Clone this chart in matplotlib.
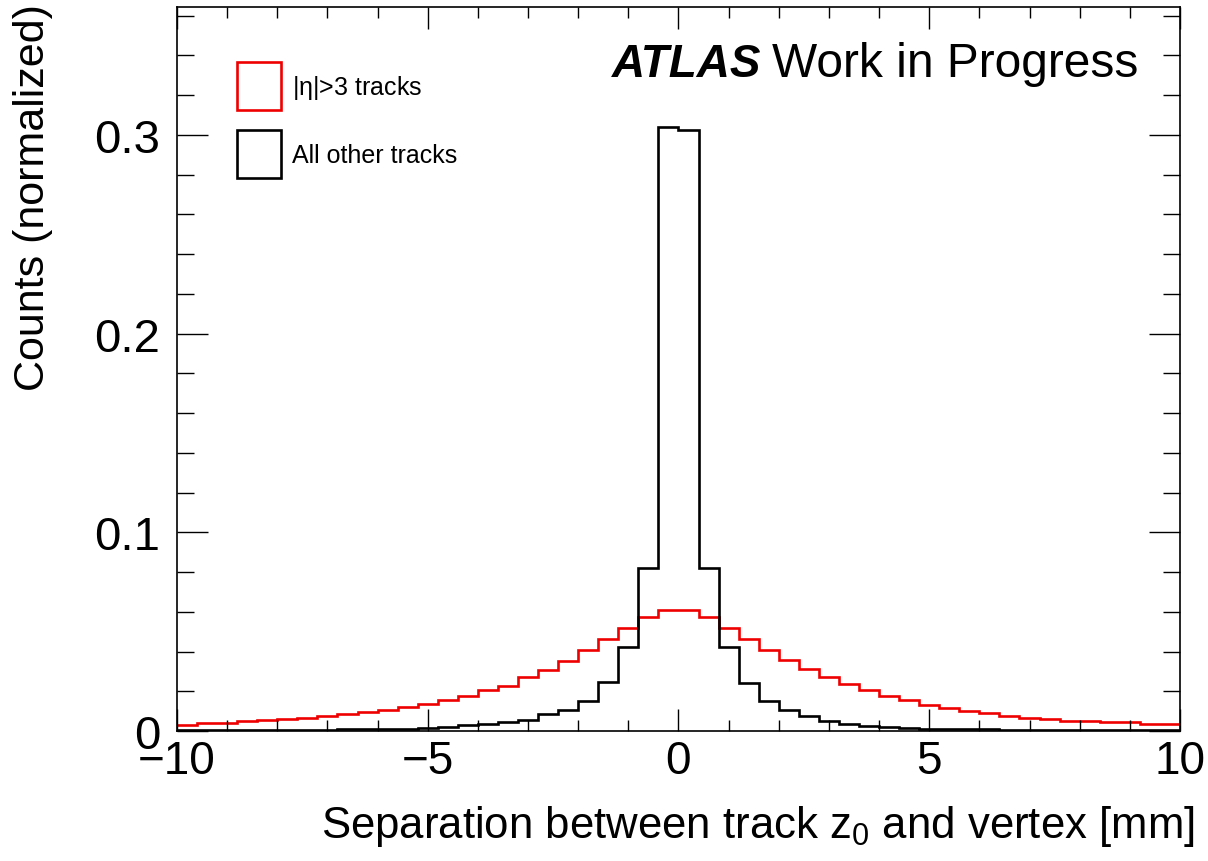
import numpy as np
import matplotlib
matplotlib.use('Agg')
import matplotlib.pyplot as plt
from matplotlib.patches import Patch
from matplotlib.ticker import MultipleLocator, FixedLocator

plt.rcParams['font.family'] = ['Liberation Sans', 'DejaVu Sans']
plt.rcParams['mathtext.fontset'] = 'custom'
plt.rcParams['mathtext.rm'] = 'Liberation Sans'

# 50 bins of 0.4 mm between -10 and 10
edges = np.linspace(-10, 10, 51)

# |eta|>3 tracks (red), normalized counts per bin
forward = [0.0030, 0.0039, 0.0040, 0.0049, 0.0054, 0.0058, 0.0064, 0.0074, 0.0086, 0.0097,
           0.0107, 0.0119, 0.0134, 0.0158, 0.0178, 0.0206, 0.0228, 0.0270, 0.0307, 0.0350,
           0.0408, 0.0463, 0.0517, 0.0572, 0.0609, 0.0609, 0.0572, 0.0517, 0.0463, 0.0408,
           0.0355, 0.0312, 0.0270, 0.0237, 0.0206, 0.0175, 0.0158, 0.0132, 0.0116, 0.0099,
           0.0089, 0.0077, 0.0067, 0.0060, 0.0052, 0.0052, 0.0047, 0.0044, 0.0035, 0.0035]

# all other tracks (black)
central = [0.0004, 0.0004, 0.0005, 0.0005, 0.0005, 0.0006, 0.0006, 0.0007, 0.0008, 0.0008,
           0.0009, 0.0010, 0.0015, 0.0020, 0.0030, 0.0035, 0.0044, 0.0055, 0.0084, 0.0105,
           0.0149, 0.0245, 0.0421, 0.0819, 0.3038, 0.3026, 0.0819, 0.0421, 0.0243, 0.0149,
           0.0105, 0.0077, 0.0049, 0.0035, 0.0027, 0.0022, 0.0015, 0.0012, 0.0009, 0.0008,
           0.0008, 0.0007, 0.0006, 0.0006, 0.0005, 0.0005, 0.0005, 0.0004, 0.0004, 0.0004]

yticks = [0, 0.1, 0.2, 0.3]
ytick_labels = ['0', '0.1', '0.2', '0.3']

fig = plt.figure(figsize=(12.08, 8.62), dpi=100)
ax = fig.add_axes([0.1465, 0.1508, 0.8303, 0.8399])

ax.stairs(forward, edges, color='#ee0000', linewidth=1.9, baseline=None)
ax.stairs(central, edges, color='black', linewidth=1.9, baseline=None)

ax.set_xlim(-10, 10)
ax.set_ylim(0, 0.3644)

ax.xaxis.set_minor_locator(MultipleLocator(1))
ax.yaxis.set_major_locator(FixedLocator(yticks))
ax.set_yticklabels(ytick_labels)
ax.yaxis.set_minor_locator(MultipleLocator(0.02))
ax.set_xticks([-10, -5, 0, 5, 10])
ax.set_xticklabels(['\u221210', '\u22125', '0', '5', '10'])

ax.tick_params(axis='both', which='both', direction='in', top=True, right=True, width=1.0)
ax.tick_params(axis='x', which='major', length=16, labelsize=33, pad=6)
ax.tick_params(axis='x', which='minor', length=8)
ax.tick_params(axis='y', which='major', length=22, labelsize=34, pad=12)
ax.tick_params(axis='y', which='minor', length=12)
for s in ax.spines.values():
    s.set_linewidth(1.2)

ax.set_xlabel(r'Separation between track $\mathregular{z_0}$ and vertex [mm]', fontsize=31.5, loc='right')
ax.xaxis.set_label_coords(1.015, -0.100)
ax.set_ylabel('Counts (normalized)', fontsize=31, loc='top')
ax.yaxis.set_label_coords(-0.124, 1.006)

# ATLAS label
ax.text(0.4337, 0.905, 'ATLAS', transform=ax.transAxes, fontsize=33, fontweight='bold',
        fontstyle='italic', va='baseline', ha='left')
ax.text(0.593, 0.905, 'Work in Progress', transform=ax.transAxes, fontsize=34.5,
        va='baseline', ha='left')

handles = [Patch(facecolor='none', edgecolor='#ee0000', linewidth=1.9, label=r'|$\mathregular{\eta}$|>3 tracks'),
           Patch(facecolor='none', edgecolor='black', linewidth=1.9, label='All other tracks')]
ax.legend(handles=handles, loc='upper left', bbox_to_anchor=(0.0598, 0.924), frameon=False,
          fontsize=18, handlelength=1.76, handleheight=2.58, labelspacing=0.8,
          handletextpad=0.44, borderpad=0, borderaxespad=0)

fig.savefig('out.png', dpi=100)
